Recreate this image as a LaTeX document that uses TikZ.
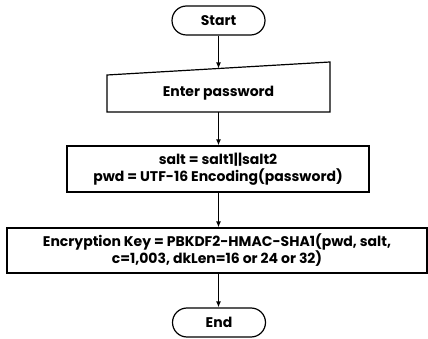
\documentclass[tikz,border=0pt]{standalone}
\usepackage{fontspec}
\setmainfont{Poppins}
\usetikzlibrary{shapes.misc,arrows.meta}
\begin{document}
\begin{tikzpicture}[x=1pt,y=-1pt,
  every node/.style={font=\bfseries\fontsize{14}{17}\selectfont},
  term/.style={rounded rectangle, draw, line width=1.2pt, minimum width=93pt,
    minimum height=29pt, inner sep=0pt},
  proc/.style={rectangle, draw, line width=1.2pt, inner sep=0pt, align=center},
  flow/.style={-{Latex[length=6pt,width=5pt]}, line width=1.2pt}]
\useasboundingbox (0,0) rectangle (428,339);

% start terminal
\node[term] (start) at (218.5,20.5) {Start};

% manual input step: slanted top edge
\node[minimum width=223pt, minimum height=30pt, inner sep=0pt] (input) at (218.5,93) {Enter password};
\draw[line width=1.2pt] (107,75) -- (330,62) -- (330,112) -- (107,112) -- cycle;
\coordinate (inputTop) at (218.5,68.5);
\coordinate (inputBot) at (218.5,112);

% processing steps
\node[proc, minimum width=302pt, minimum height=46pt] (prep) at (218,169)
  {salt = salt1||salt2\\pwd = UTF-16 Encoding(password)};
\node[proc, minimum width=420pt, minimum height=45pt] (kdf) at (217,250.5)
  {Encryption Key = PBKDF2-HMAC-SHA1(pwd, salt,\\c=1,003, dkLen=16 or 24 or 32)};

% end terminal
\node[term] (end) at (219,322.5) {End};

% connectors
\draw[flow] (start) -- (inputTop);
\draw[flow] (inputBot) -- (prep.north -| inputBot);
\draw[flow] (prep.south -| inputBot) -- (kdf.north -| inputBot);
\draw[flow] (kdf.south -| inputBot) -- (end.north -| inputBot);
\end{tikzpicture}
\end{document}
